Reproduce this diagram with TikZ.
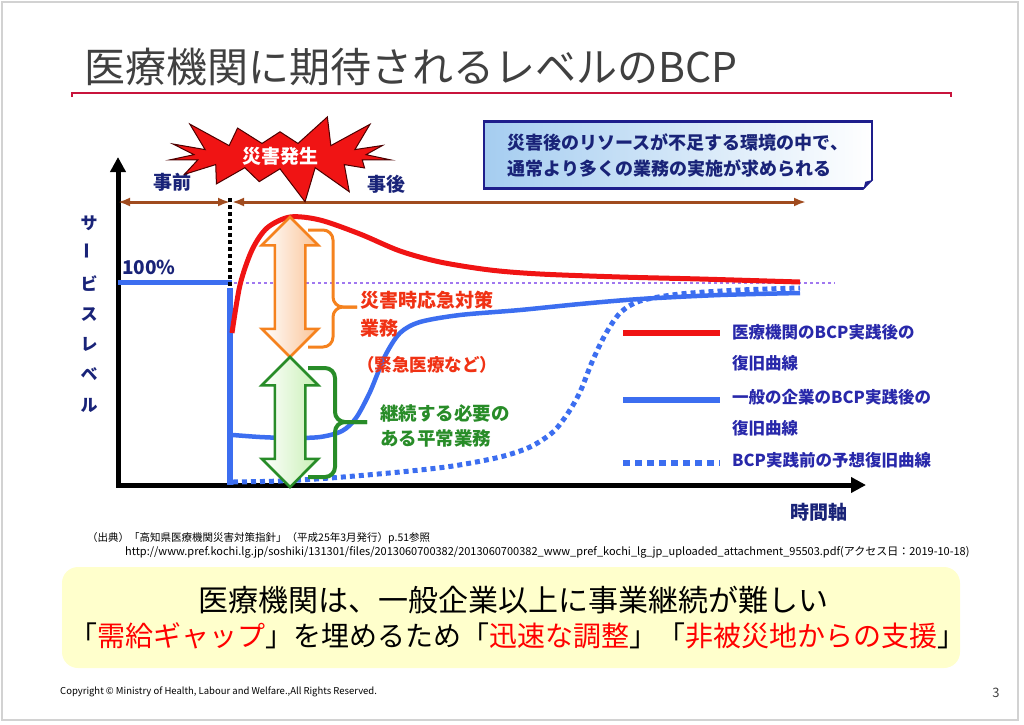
\documentclass[tikz,border=0pt]{standalone}
\usepackage{fontspec}
\setmainfont{Noto Sans CJK JP}
\usepackage{tikz}
\usetikzlibrary{arrows,arrows.meta,shapes.arrows,shapes.symbols,positioning}
\definecolor{titleG}{RGB}{64,64,64}
\definecolor{lineR}{RGB}{200,20,60}
\definecolor{navy}{RGB}{25,35,120}
\definecolor{navyB}{RGB}{30,30,140}
\definecolor{legB}{RGB}{40,40,170}
\definecolor{blueC}{RGB}{60,110,240}
\definecolor{redC}{RGB}{240,20,20}
\definecolor{purpleC}{RGB}{160,120,240}
\definecolor{brownC}{RGB}{160,75,30}
\definecolor{orangeC}{RGB}{245,130,30}
\definecolor{peach}{RGB}{250,195,150}
\definecolor{greenC}{RGB}{40,140,40}
\definecolor{lgreen}{RGB}{200,240,180}
\definecolor{redT}{RGB}{240,50,20}
\definecolor{boxL}{RGB}{165,205,240}
\definecolor{yellowB}{RGB}{255,255,204}

\begin{document}
\begin{tikzpicture}[x=1pt,y=-1pt]
      \tikzstyle{every node}=[inner sep=0pt]
      \tikzstyle{axis}=[line width=5pt,{Triangle[length=15pt,width=15pt]}-{Triangle[length=15pt,width=15pt]}]
      \tikzstyle{span}=[brownC,line width=3pt,{Latex[length=12pt,width=9pt]}-{Latex[length=12pt,width=9pt]}]
      \tikzstyle{redc}=[redC,line width=5pt]
      \tikzstyle{bluec}=[blueC,line width=4.5pt]
      \tikzstyle{dotc}=[blueC,line width=5pt,dash pattern=on 5pt off 4pt]
      \tikzstyle{dblarrow}=[double arrow,rotate=90,inner sep=14pt,minimum height=140pt,minimum width=54pt,double arrow head extend=13pt,line width=2.5pt]
      \tikzstyle{label}=[font=\bfseries\fontsize{19}{22}\selectfont,text=navy]
      \tikzstyle{legend}=[anchor=west,align=left,text=legB,font=\bfseries\fontsize{16.5}{31}\selectfont]
      \useasboundingbox (0,0) rectangle (1024,724);
      \draw[gray!35,line width=1.5pt] (2,2) rectangle (1018,720);
      % title
      \node[anchor=west,text=titleG,font=\fontsize{41}{46}\selectfont] (T) at (84,67) {医療機関に期待されるレベルのBCP};
      \draw[lineR,line width=1.5pt] (72,97) -- (72,93) -- (951,93) -- (951,97);
      % chart
      \coordinate (O) at (118,485);
      \coordinate (Yt) at (118,157);
      \coordinate (Xt) at (866,485);
      \draw[axis,line join=miter] (Yt) -- (O) -- (Xt);
      \node[label] (X) at (819,512) {時間軸};
      \node[align=center,text=navy,font=\bfseries\fontsize{17}{30.3}\selectfont] (V) at (89,314) {サ\\\rotatebox{90}{ー}\\ビ\\ス\\レ\\ベ\\ル};
      \node[label] (B) at (172,182) {事前};
      \node[label] (A) at (386,184) {事後};
      \node[label] (P) at (149,267) {100\%};
      \coordinate (D0) at (118,202);
      \coordinate (D1) at (230,202);
      \coordinate (D2) at (232,202);
      \coordinate (D3) at (806,202);
      \draw[span] (D0) -- (D1);
      \draw[span] (D2) -- (D3);
      \draw[purpleC,line width=2.5pt,dash pattern=on 3pt off 3pt] (234,283) -- (835,283);
      \draw[blueC,line width=5pt] (118,282) -- (232,282);
      \draw[blueC,line width=6.5pt] (230,288) -- (230,485);
      \draw[black,line width=4pt,dash pattern=on 4pt off 3pt] (230,198) -- (230,288);
      \draw[dotc] plot[smooth] coordinates {(233,482) (280,481) (330,478) (400,472) (453,466) (500,457) (530,447) (553,432) (568,413) (580,392) (592,362) (605,335) (620,313) (640,301) (680,294) (740,290) (800,288)};
      \draw[bluec] plot[smooth] coordinates {(233,435) (260,437) (290,438) (320,437) (342,431) (356,418) (370,392) (385,356) (400,333) (420,322) (460,315) (520,310) (580,304) (640,299) (720,295) (800,293)};
      \draw[redc] plot[smooth] coordinates {(232,333) (240,285) (252,250) (267,228) (290,217) (320,220) (360,234) (400,251) (440,262) (490,270) (540,274) (620,277) (700,279) (800,282)};
      \node[dblarrow,draw=orangeC,left color=white,right color=peach] (E) at (290,287) {};
      \node[dblarrow,draw=greenC,left color=white,right color=lgreen,minimum height=130pt] (G) at (290,422) {};
      \draw[orangeC,line width=3pt,rounded corners=10pt] (308,230) -- (333,230) -- (333,307) -- (357,307);
      \draw[orangeC,line width=3pt,rounded corners=10pt] (308,347) -- (333,347) -- (333,307) -- (357,307);
      \draw[greenC,line width=4pt,rounded corners=10pt] (308,368) -- (335,368) -- (335,422) -- (367,422);
      \draw[greenC,line width=4pt,rounded corners=10pt] (308,477) -- (335,477) -- (335,422) -- (367,422);
      \node[anchor=west,align=left,text=redT,font=\bfseries\fontsize{19}{28}\selectfont] (E1) at (360,314) {災害時応急対策\\業務};
      \node[anchor=west,text=redT,font=\bfseries\fontsize{17.5}{20}\selectfont] (E2) at (357,365) {（緊急医療など）};
      \node[anchor=west,align=left,text=greenC,font=\bfseries\fontsize{18.5}{25}\selectfont] (G1) at (380,425.5) {継続する必要の\\ある平常業務};
      % legend
      \draw[redC,line width=6pt] (623,333) -- (720,333);
      \draw[blueC,line width=6pt] (623,400) -- (720,400);
      \draw[blueC,line width=6pt,dash pattern=on 6.5pt off 5.5pt] (623,463) -- (720,463);
      \node[legend] (L1) at (732,347.5) {医療機関のBCP実践後の\\復旧曲線};
      \node[legend] (L2) at (732,412.5) {一般の企業のBCP実践後の\\復旧曲線};
      \node[legend] (L3) at (732,460) {BCP実践前の予想復旧曲線};
      % burst and message
      \node[starburst,fill=redC,draw=black!70!red,line width=1pt,starburst points=15,starburst point height=36pt,random starburst=3,minimum width=245pt,minimum height=92pt,text=white,font=\bfseries\fontsize{19}{22}\selectfont] (S) at (280,156) {災害発生};
      \node[draw=navyB,line width=2.5pt,left color=boxL,right color=white,minimum width=388pt,minimum height=67pt,align=left,text=navy,font=\bfseries\fontsize{18}{26}\selectfont] (M) at (678,155) {災害後のリソースが不足する環境の中で、\\通常より多くの業務の実施が求められる};
      \fill[white] ([xshift=-10pt]M.south east) -- ([xshift=2pt,yshift=-2pt]M.south east) -- ([yshift=10pt]M.south east) -- cycle;
      \fill[navyB] ([xshift=-10pt]M.south east) -- ([yshift=10pt]M.south east) -- ([xshift=-8pt,yshift=8pt]M.south east) -- cycle;
      % source
      \node[anchor=west,font=\fontsize{10.5}{12}\selectfont] (C1) at (87,538) {（出典）「高知県医療機関災害対策指針」（平成25年3月発行）p.51参照};
      \node[anchor=west,font=\fontsize{11}{12}\selectfont] (C2) at (125,552) {http://www.pref.kochi.lg.jp/soshiki/131301/files/2013060700382/2013060700382\_www\_pref\_kochi\_lg\_jp\_uploaded\_attachment\_95503.pdf(アクセス日：2019-10-18)};
      % summary
      \node[fill=yellowB,rounded corners=16pt,minimum width=898pt,minimum height=101pt] (Y) at (511,617.5) {};
      \node[font=\fontsize{30}{34}\selectfont] (Y1) at (513,600) {医療機関は、一般企業以上に事業継続が難しい};
      \node[font=\fontsize{28}{32}\selectfont] (Y2) at (517,636) {「{\color{red}需給ギャップ}」を埋めるため「{\color{red}迅速な調整}」「{\color{red}非被災地からの支援}」};
      \node[anchor=west,font=\fontsize{9.5}{11}\selectfont] (R) at (60,692) {Copyright © Ministry of Health, Labour and Welfare.,All Rights Reserved.};
      \node[font=\fontsize{13}{15}\selectfont,text=titleG] (N) at (996,693) {3};
\end{tikzpicture}
\end{document}
